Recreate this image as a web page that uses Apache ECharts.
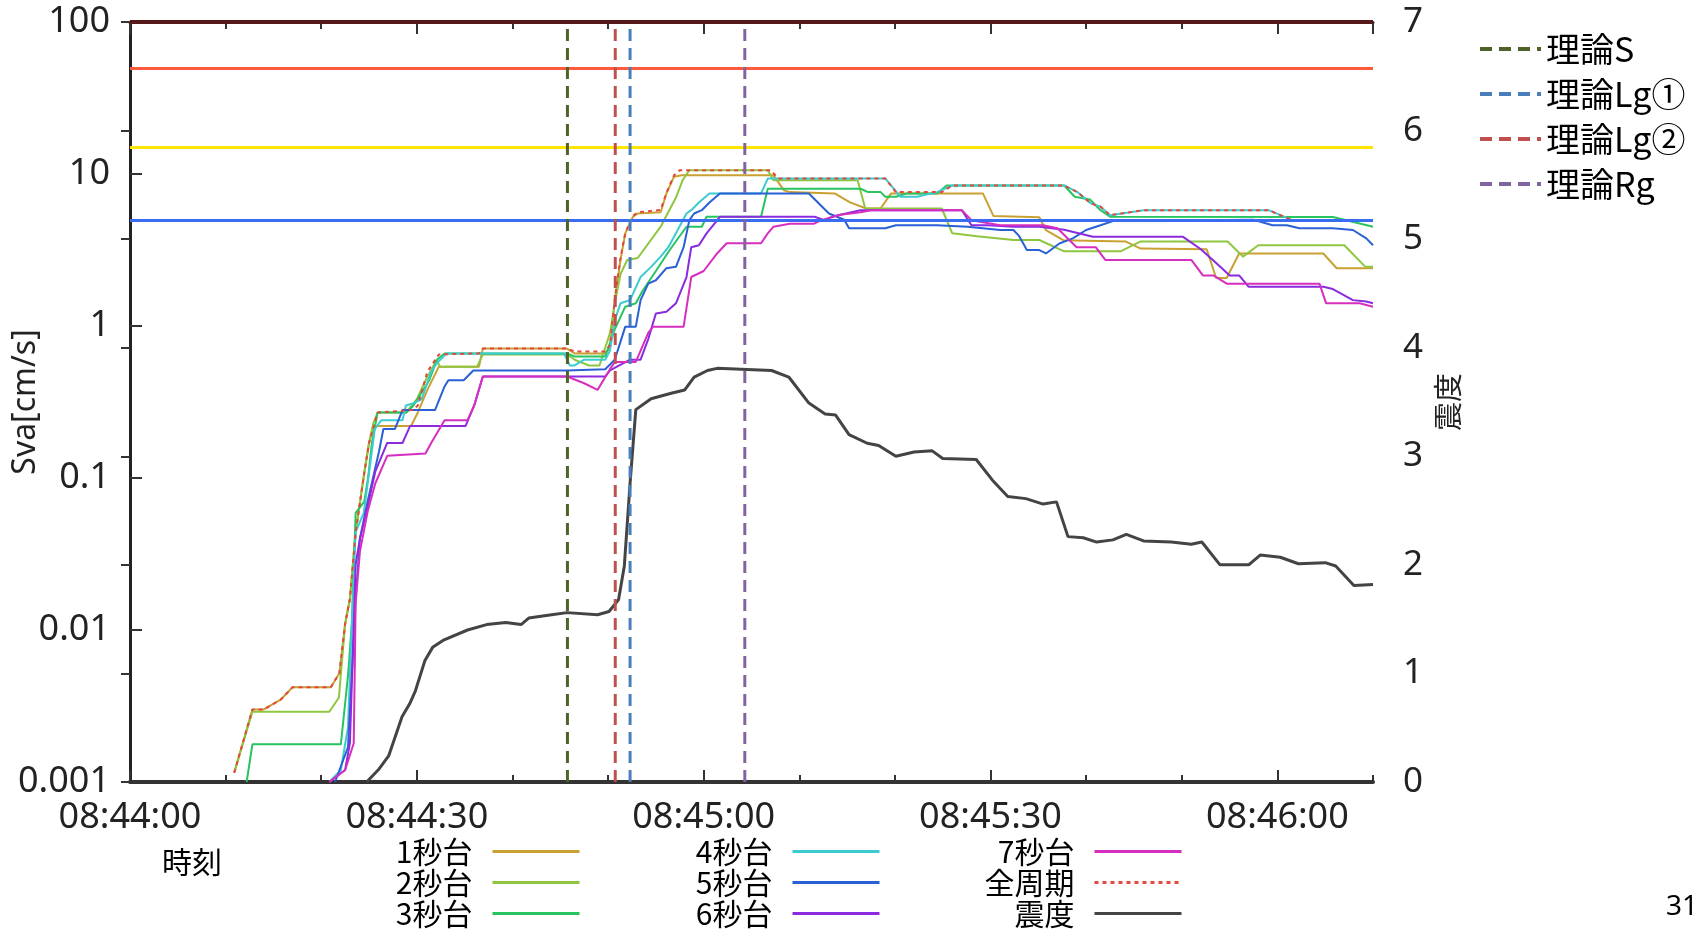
<!DOCTYPE html>
<html><head><meta charset="utf-8">
<script src="https://cdn.jsdelivr.net/npm/echarts@6/dist/echarts.min.js"></script>
<style>html,body{margin:0;padding:0;background:#fff}#c{width:1702px;height:932px}</style>
</head><body><div id="c"></div>
<script>
// ---------- tick labels ----------
const xTickLabels = ['08:44:00', '08:44:30', '08:45:00', '08:45:30', '08:46:00'];
const yTickLabels = ['0.001', '0.01', '0.1', '1', '10', '100'];
const intensityTickLabels = ['0', '1', '2', '3', '4', '5', '6', '7'];

// ---------- series names ----------
const periodNames = ['1秒台', '2秒台', '3秒台', '4秒台', '5秒台', '6秒台', '7秒台', '全周期'];
const intensityName = '震度';
const arrivalNames = ['理論S', '理論Lg①', '理論Lg②', '理論Rg'];

// ---------- data: [seconds after 08:44:00, Sva cm/s] ----------
const sva1 = [[10.9,0.00115],[12.8,0.003],[14.0,0.003],[15.8,0.0035],[17.0,0.0042],[21.0,0.0042],[21.9,0.0052],[22.5,0.011],[23.0,0.016],[23.6,0.044],[24.5,0.108],[25.0,0.17],[25.5,0.22],[26.3,0.22],[29.4,0.22],[30.1,0.27],[31.1,0.38],[32.3,0.54],[36.5,0.54],[36.9,0.71],[45.7,0.71],[46.5,0.66],[49.7,0.66],[50.2,0.72],[50.7,1.48],[51.3,2.72],[51.8,4.07],[52.6,5.23],[53.1,5.5],[55.5,5.6],[56.1,7.45],[56.9,9.6],[57.7,9.8],[67.3,9.8],[68.4,7.8],[69.0,7.6],[73.7,7.45],[75.3,6.5],[77.0,5.93],[78.5,5.93],[79.6,7.45],[89.2,7.45],[90.3,5.3],[95.1,5.2],[95.8,4.28],[97.6,3.67],[104.1,3.6],[105.7,3.23],[112.6,3.2],[113.6,2.07],[114.7,2.07],[116.0,3.0],[124.8,3.0],[126.2,2.4],[130,2.4]];
const sva2 = [[10.9,0.00115],[12.8,0.0029],[20.85,0.0029],[21.85,0.0036],[22.5,0.011],[23.0,0.016],[23.6,0.044],[24.5,0.108],[25.0,0.17],[25.45,0.23],[25.9,0.27],[28.9,0.27],[30.0,0.33],[31.0,0.45],[32.1,0.6],[32.4,0.54],[36.3,0.54],[36.9,0.65],[45.7,0.65],[46.5,0.6],[48.0,0.55],[49.1,0.55],[50.2,0.9],[50.7,1.4],[51.3,2.2],[52.0,2.72],[53.1,2.8],[55.5,4.5],[57.1,7.0],[57.8,9.1],[58.5,10.6],[66.7,10.6],[67.3,9.1],[76.1,9.1],[76.9,5.93],[84.9,5.93],[86.0,4.07],[88.6,3.9],[92.4,3.68],[95.1,3.68],[97.7,3.1],[103.6,3.1],[105.7,3.6],[114.8,3.6],[116.4,2.86],[118.0,3.4],[127.0,3.4],[129.2,2.45],[130,2.45]];
const sva3 = [[12.2,0.001],[12.8,0.00177],[22.05,0.00177],[22.8,0.005],[23.2,0.011],[23.6,0.059],[24.5,0.07],[24.9,0.1],[25.3,0.17],[25.9,0.27],[28.9,0.27],[29.65,0.3],[31.3,0.44],[32.1,0.6],[32.9,0.66],[45.7,0.66],[46.5,0.63],[49.7,0.63],[50.7,0.95],[51.8,1.34],[52.9,1.41],[53.6,1.7],[55.0,2.3],[56.5,3.2],[58.2,4.5],[59.8,4.5],[60.3,5.23],[66.0,5.23],[66.7,8.0],[76.4,8.0],[77.2,7.6],[78.5,7.6],[79.0,7.08],[80.1,7.08],[81.2,7.45],[84.4,7.45],[85.4,8.4],[97.7,8.4],[98.8,7.08],[100.4,6.8],[101.5,5.78],[102.5,5.23],[125.8,5.22],[130,4.5]];
const sva4 = [[20.85,0.001],[22.05,0.0012],[22.8,0.0023],[23.2,0.011],[23.6,0.044],[24.45,0.059],[25.0,0.108],[25.6,0.21],[26.3,0.24],[28.5,0.24],[28.85,0.3],[29.65,0.31],[30.5,0.33],[31.5,0.5],[32.1,0.57],[33.1,0.66],[45.4,0.66],[46.0,0.55],[46.5,0.55],[47.5,0.6],[49.7,0.6],[50.2,0.69],[50.7,1.09],[51.3,1.41],[52.3,1.48],[53.4,2.1],[54.5,2.45],[55.5,2.86],[56.3,3.3],[57.1,4.07],[58.2,5.5],[58.7,5.78],[59.5,6.5],[60.6,7.45],[66.0,7.45],[66.7,9.33],[79.0,9.33],[80.6,7.08],[82.3,7.08],[84.4,7.6],[86.0,8.4],[97.7,8.4],[99.1,7.6],[100.5,6.4],[101.5,6.1],[102.5,5.36],[106.0,5.78],[119.1,5.78],[121.6,4.95],[130,4.95]];
const sva5 = [[21.45,0.001],[22.8,0.0017],[23.2,0.005],[23.6,0.016],[24.05,0.04],[24.85,0.07],[26.05,0.15],[26.5,0.21],[27.7,0.21],[28.5,0.28],[31.9,0.28],[32.9,0.4],[33.3,0.44],[34.9,0.44],[35.9,0.51],[45.7,0.51],[49.7,0.52],[50.7,0.6],[51.8,0.99],[52.9,0.99],[53.4,1.48],[54.2,1.9],[55.0,2.0],[56.1,2.4],[57.1,2.45],[57.9,3.3],[58.5,4.97],[59.0,5.5],[59.8,5.78],[60.6,6.5],[61.7,7.45],[71.0,7.45],[73.1,5.5],[74.7,5.0],[75.2,4.4],[79.0,4.4],[80.1,4.6],[84.4,4.6],[87.6,4.5],[91.0,4.28],[92.4,4.28],[93.0,3.9],[93.8,3.16],[95.1,3.16],[95.8,3.0],[97.2,3.49],[98.6,3.77],[100.0,4.28],[101.5,4.6],[102.8,4.9],[117.5,5.0],[119.5,4.6],[121.0,4.6],[122.3,4.4],[125.8,4.4],[127.9,4.28],[129.3,3.77],[130,3.4]];
const sva6 = [[20.85,0.001],[22.5,0.0012],[23.0,0.0018],[23.6,0.027],[24.05,0.04],[24.85,0.065],[25.65,0.11],[26.9,0.17],[28.5,0.17],[29.3,0.22],[35.1,0.22],[36.0,0.3],[36.9,0.465],[49.7,0.465],[50.2,0.51],[52.3,0.6],[53.4,0.6],[54.2,0.82],[55.0,1.21],[56.1,1.24],[57.1,1.41],[58.2,2.1],[58.7,3.3],[59.5,3.4],[60.3,4.07],[61.7,5.23],[71.6,5.23],[72.6,4.97],[73.7,5.3],[76.4,5.78],[87.0,5.78],[88.0,4.6],[89.7,4.6],[92.4,4.5],[95.1,4.5],[97.7,4.3],[100.7,3.87],[110.1,3.87],[112.0,3.2],[114.0,2.46],[115.0,2.15],[116.0,2.15],[117.0,1.81],[124.8,1.81],[125.8,1.75],[127.9,1.48],[129.3,1.45],[130,1.41]];
const sva7 = [[20.85,0.001],[22.5,0.0012],[23.4,0.0018],[23.6,0.015],[24.05,0.033],[24.85,0.06],[25.65,0.092],[26.9,0.14],[30.9,0.145],[31.5,0.17],[32.9,0.24],[35.3,0.24],[36.0,0.3],[36.9,0.465],[45.7,0.465],[47.5,0.42],[48.9,0.38],[50.2,0.52],[50.7,0.58],[52.9,0.58],[54.2,0.9],[54.7,0.99],[57.9,0.99],[58.7,2.1],[60.0,2.3],[61.4,3.0],[62.4,3.5],[66.0,3.5],[66.7,4.07],[67.3,4.5],[69.0,4.7],[71.5,4.7],[72.3,4.97],[74.3,5.4],[76.4,5.6],[77.5,5.78],[87.0,5.78],[88.0,4.97],[91.0,4.6],[95.5,4.6],[97.0,4.4],[99.0,3.3],[101.0,3.3],[102.0,2.72],[111.0,2.72],[112.2,2.15],[113.3,2.15],[114.7,1.9],[124.4,1.9],[125.1,1.41],[128.6,1.41],[130,1.34]];
const svaAll = [[10.9,0.00115],[12.8,0.003],[14.0,0.003],[15.8,0.0035],[17.0,0.0042],[21.0,0.0042],[21.9,0.0052],[22.5,0.011],[23.0,0.016],[23.6,0.044],[24.5,0.108],[25.0,0.17],[25.5,0.22],[25.9,0.27],[29.6,0.28],[30.1,0.3],[31.1,0.5],[32.3,0.65],[36.5,0.66],[36.9,0.71],[45.7,0.71],[46.5,0.68],[49.7,0.68],[50.2,0.75],[50.7,1.5],[51.3,2.8],[51.8,4.1],[52.6,5.3],[53.1,5.6],[55.5,5.8],[56.1,7.5],[56.9,9.8],[57.5,10.6],[67.0,10.6],[67.8,9.33],[79.0,9.33],[80.1,7.6],[84.9,7.6],[86.0,8.4],[97.7,8.4],[99.1,7.6],[100.5,6.4],[101.5,6.1],[102.5,5.36],[106.0,5.78],[119.1,5.78],[121.6,4.95],[130,4.95]];
// seismic intensity (right axis)
const intensity = [[24.75,0],[26.05,0.12],[27.05,0.24],[28.45,0.6],[29.25,0.72],[29.85,0.84],[30.85,1.12],[31.65,1.24],[32.85,1.31],[35.3,1.40],[37.3,1.45],[39.3,1.47],[40.9,1.45],[41.7,1.51],[44.1,1.54],[45.7,1.56],[48.9,1.54],[50.1,1.57],[51.1,1.68],[51.7,1.99],[52.3,2.75],[52.9,3.43],[54.5,3.53],[56.6,3.58],[58.0,3.61],[59.0,3.73],[60.4,3.79],[61.4,3.81],[67.1,3.79],[68.9,3.73],[71.0,3.49],[72.7,3.39],[73.8,3.38],[75.2,3.20],[77.1,3.12],[78.3,3.10],[80.1,3.00],[82.0,3.04],[83.9,3.05],[85.0,2.98],[88.5,2.97],[90.2,2.78],[91.8,2.63],[93.7,2.61],[95.5,2.56],[96.9,2.58],[98.1,2.26],[99.7,2.25],[101.1,2.21],[102.8,2.23],[104.2,2.28],[106.0,2.22],[108.9,2.21],[111.0,2.19],[112.1,2.21],[114.0,2.00],[117.0,2.00],[118.2,2.09],[120.3,2.07],[122.2,2.01],[125.0,2.02],[126.1,1.99],[128.0,1.81],[130,1.82]];

// theoretical arrival times (seconds after 08:44:00): S, Lg①, Lg②, Rg
const arrivalTimes = [45.75, 52.3, 50.75, 64.3];
// long-period ground motion class thresholds [cm/s]
const thresholds = [100, 50, 15, 5];

// axis ranges
const xMin = 0, xMax = 130;
const yMin = 0.001, yMax = 100;

// ---------- styles ----------
const periodColors = ['#c9a032', '#8fc63f', '#27c45f', '#3ccbd0', '#2a60d6', '#8a2be0', '#d62fc0', '#e2483e'];
const intensityColor = '#444444';
const arrivalColors = ['#4f6228', '#4a7ebb', '#c0504d', '#8064a2'];
const thresholdColors = ['#561818', '#ff5a3c', '#ffe600', '#3a6cf2'];
const NUM_FONT = '"Noto Sans", "Open Sans", sans-serif';
const JP_FONT = '"Noto Sans CJK JP", "Noto Sans", sans-serif';

const periodData = [sva1, sva2, sva3, sva4, sva5, sva6, sva7, svaAll];

const xLabel = v => {
  const i = Math.round(v / 30);
  return (Math.abs(v - i * 30) < 1e-6 && xTickLabels[i]) ? xTickLabels[i] : '';
};
const yLabel = v => {
  const i = Math.round(Math.log10(v)) - Math.round(Math.log10(yMin));
  return yTickLabels[i] !== undefined ? yTickLabels[i] : '';
};

const chart = echarts.init(document.getElementById('c'), null, { renderer: 'canvas', width: 1702, height: 932 });

const series = [];
// thresholds
series.push({
  name: 'thresholds', type: 'line', data: [], silent: true, z: 1,
  markLine: {
    silent: true, symbol: 'none', animation: false, label: { show: false },
    data: thresholds.map((v, i) => ({ yAxis: v, lineStyle: { color: thresholdColors[i], width: i === 0 ? 4 : 3, type: 'solid' } }))
  }
});
periodData.forEach((d, i) => {
  const isAll = i === 7;
  series.push({
    name: periodNames[i], type: 'line', data: d, symbol: 'none', showSymbol: false,
    xAxisIndex: 0, yAxisIndex: 0, z: isAll ? 4 : 3, animation: false,
    emphasis: { disabled: true },
    lineStyle: { color: periodColors[i], width: 2, type: isAll ? [4, 4] : 'solid' },
    itemStyle: { color: periodColors[i] }
  });
});
series.push({
  name: intensityName, type: 'line', data: intensity, symbol: 'none', showSymbol: false,
  xAxisIndex: 0, yAxisIndex: 1, z: 3, animation: false, emphasis: { disabled: true },
  lineStyle: { color: intensityColor, width: 3 }, itemStyle: { color: intensityColor }
});
arrivalTimes.forEach((t, i) => {
  series.push({
    name: arrivalNames[i], type: 'line', data: [[t, yMin], [t, yMax]], symbol: 'none', showSymbol: false,
    xAxisIndex: 0, yAxisIndex: 0, z: 5, animation: false, emphasis: { disabled: true },
    lineStyle: { color: arrivalColors[i], width: 3, type: [12, 7] }, itemStyle: { color: arrivalColors[i] }
  });
});

const baseX = { type: 'value', min: xMin, max: xMax, splitLine: { show: false } };
const bottomLegendText = { fontSize: 30, fontFamily: JP_FONT, color: '#000', lineHeight: 31, padding: [0, 15, 0, 0] };
const bottomLegendBase = {
  orient: 'vertical', align: 'right', top: 836, height: 140, padding: 0, itemWidth: 87, itemHeight: 14, itemGap: 0,
  selectedMode: false, textStyle: bottomLegendText, itemStyle: { opacity: 0 }, lineStyle: { width: 3 }
};

chart.setOption({
  animation: false,
  backgroundColor: '#ffffff',
  grid: { left: 130, right: 329, top: 22, bottom: 150, containLabel: false, outerBoundsMode: 'none' },
  xAxis: [
    Object.assign({}, baseX, {
      position: 'bottom', interval: 30,
      axisLine: { show: true, lineStyle: { color: '#333', width: 4 } },
      axisTick: { show: true, inside: true, length: 12, lineStyle: { color: '#333', width: 2 } },
      axisLabel: { formatter: xLabel, fontSize: 36, fontFamily: NUM_FONT, color: '#222', margin: 18, showMaxLabel: false }
    }),
    Object.assign({}, baseX, {
      position: 'bottom', interval: 10,
      axisLine: { show: false },
      axisTick: { show: true, inside: true, length: 7, lineStyle: { color: '#333', width: 2 } },
      axisLabel: { show: false }
    }),
    Object.assign({}, baseX, {
      position: 'top', interval: 30,
      axisLine: { show: true, lineStyle: { color: '#3a1010', width: 3 } },
      axisTick: { show: true, inside: true, length: 12, lineStyle: { color: '#333', width: 2 } },
      axisLabel: { show: false }
    }),
    Object.assign({}, baseX, {
      position: 'top', interval: 10,
      axisLine: { show: false },
      axisTick: { show: true, inside: true, length: 7, lineStyle: { color: '#333', width: 2 } },
      axisLabel: { show: false }
    })
  ],
  yAxis: [
    {
      type: 'log', logBase: 10, min: yMin, max: yMax, splitNumber: 5, position: 'left',
      splitLine: { show: false },
      axisLine: { show: true, lineStyle: { color: '#222', width: 2 } },
      axisTick: { show: true, inside: true, length: 12, lineStyle: { color: '#333', width: 2 } },
      axisLabel: { formatter: yLabel, fontSize: 36, fontFamily: NUM_FONT, color: '#222', margin: 20 },
      name: 'Sva[cm/s]', nameLocation: 'middle', nameGap: 88, nameRotate: 90, nameMoveOverlap: false,
      nameTextStyle: { fontSize: 32, fontFamily: NUM_FONT, color: '#222' }
    },
    {
      type: 'value', min: 0, max: 7, interval: 1, position: 'right',
      splitLine: { show: false },
      axisLine: { show: true, lineStyle: { color: '#222', width: 3 } },
      axisTick: { show: true, inside: true, length: 9, lineStyle: { color: '#333', width: 2 } },
      axisLabel: { formatter: v => intensityTickLabels[Math.round(v)] || '', fontSize: 35, fontFamily: NUM_FONT, color: '#222', margin: 30 },
      name: intensityName, nameLocation: 'middle', nameGap: 58, nameRotate: 90,
      nameTextStyle: { fontSize: 29, fontFamily: JP_FONT, color: '#222' }
    }
  ],
  legend: [
    {
      data: arrivalNames, orient: 'vertical', left: 1478, top: 32, padding: 0, itemWidth: 61, itemHeight: 14, itemGap: 11,
      selectedMode: false, textStyle: { fontSize: 34, fontFamily: JP_FONT, color: '#000' },
      itemStyle: { opacity: 0 }, lineStyle: { width: 4 }
    },
    Object.assign({}, bottomLegendBase, { data: periodNames.slice(0, 3), right: 1121 }),
    Object.assign({}, bottomLegendBase, { data: periodNames.slice(3, 6), right: 821 }),
    Object.assign({}, bottomLegendBase, { data: [periodNames[6], periodNames[7], intensityName], right: 519 })
  ],
  graphic: [
    { type: 'text', left: 162, top: 847, style: { text: '時刻', fontSize: 30, fontFamily: JP_FONT, fill: '#000' } },
    { type: 'text', left: 1666, top: 893, style: { text: '31', fontSize: 28, fontFamily: NUM_FONT, fill: '#000' } }
  ],
  series: series
});
</script>
</body></html>
